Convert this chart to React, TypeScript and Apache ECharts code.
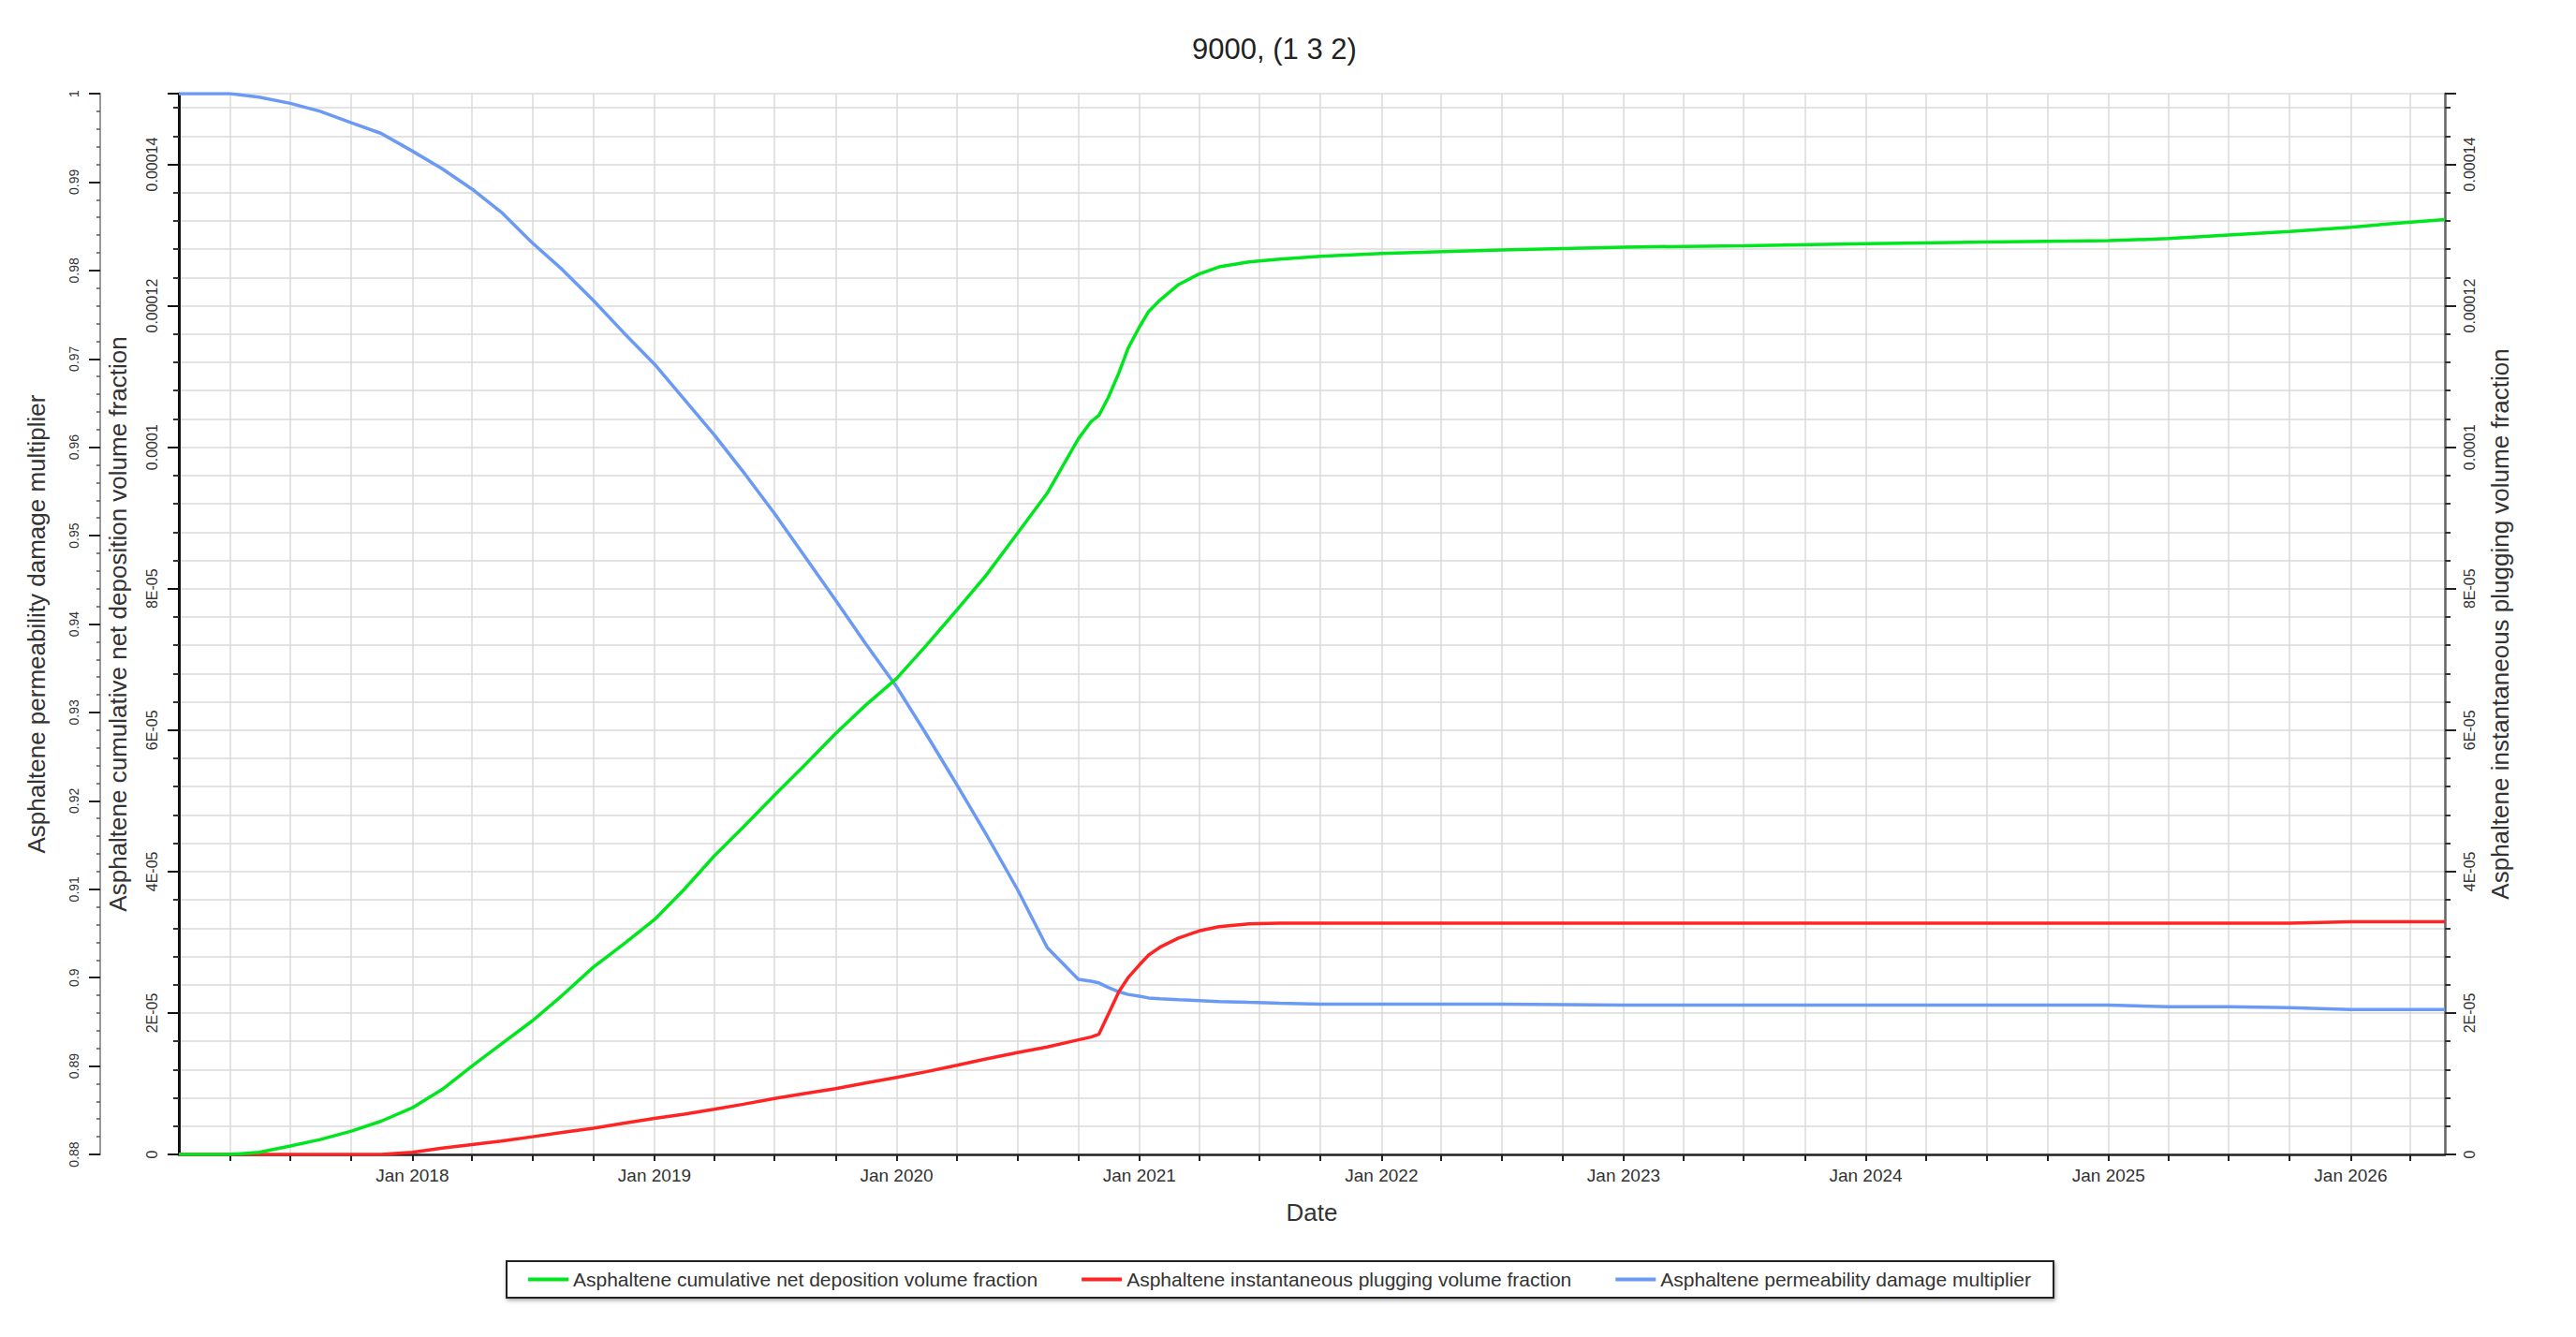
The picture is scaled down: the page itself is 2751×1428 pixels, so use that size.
import React, { useEffect, useRef } from "react";
import * as echarts from "echarts";

const TITLE = "9000, (1 3 2)";
const X_NAME = "Date";
const CUM_NAME = "Asphaltene cumulative net deposition volume fraction";
const PLUG_NAME = "Asphaltene instantaneous plugging volume fraction";
const PERM_NAME = "Asphaltene permeability damage multiplier";

const X_MIN = "2017-01-14";
const X_MAX = "2026-05-23";

const DATES = [
  "2017-01-14", "2017-04-01", "2017-05-15", "2017-07-01", "2017-08-15", "2017-10-01", "2017-11-15",
  "2018-01-01", "2018-02-15", "2018-04-01", "2018-05-15", "2018-07-01", "2018-08-15", "2018-10-01", "2018-11-15",
  "2019-01-01", "2019-02-15", "2019-04-01", "2019-05-15", "2019-07-01", "2019-08-15", "2019-10-01", "2019-11-15",
  "2020-01-01", "2020-02-15", "2020-04-01", "2020-05-15", "2020-07-01", "2020-08-15", "2020-10-01", "2020-10-20",
  "2020-11-01", "2020-11-15", "2020-12-01", "2020-12-15",
  "2021-01-01", "2021-01-15", "2021-02-01", "2021-03-01", "2021-04-01", "2021-05-01", "2021-06-15", "2021-08-01", "2021-10-01",
  "2022-01-01", "2022-07-01", "2023-01-01", "2023-07-01", "2024-01-01", "2024-07-01",
  "2025-01-01", "2025-04-01", "2025-07-01", "2025-10-01", "2026-01-01", "2026-03-01", "2026-05-23",
];

// Asphaltene cumulative net deposition volume fraction
const CUM_DEPOSITION = [
  0, 0, 0.03e-5, 0.12e-5, 0.21e-5, 0.33e-5, 0.47e-5,
  0.66e-5, 0.92e-5, 1.25e-5, 1.56e-5, 1.89e-5, 2.25e-5, 2.65e-5, 2.97e-5,
  3.32e-5, 3.75e-5, 4.22e-5, 4.63e-5, 5.08e-5, 5.5e-5, 5.95e-5, 6.35e-5,
  6.73e-5, 7.2e-5, 7.7e-5, 8.19e-5, 8.78e-5, 9.35e-5, 10.12e-5, 10.36e-5,
  10.45e-5, 10.7e-5, 11.05e-5, 11.4e-5,
  11.7e-5, 11.92e-5, 12.08e-5, 12.3e-5, 12.45e-5, 12.55e-5, 12.62e-5, 12.66e-5, 12.7e-5,
  12.74e-5, 12.79e-5, 12.83e-5, 12.85e-5, 12.88e-5, 12.9e-5,
  12.92e-5, 12.95e-5, 13.0e-5, 13.05e-5, 13.11e-5, 13.16e-5, 13.22e-5,
];

// Asphaltene instantaneous plugging volume fraction
const INST_PLUGGING = [
  0, 0, 0, 0, 0, 0, 0,
  0.03e-5, 0.09e-5, 0.14e-5, 0.19e-5, 0.25e-5, 0.31e-5, 0.37e-5, 0.44e-5,
  0.51e-5, 0.57e-5, 0.64e-5, 0.71e-5, 0.79e-5, 0.86e-5, 0.93e-5, 1.01e-5,
  1.09e-5, 1.17e-5, 1.26e-5, 1.35e-5, 1.44e-5, 1.52e-5, 1.62e-5, 1.66e-5,
  1.7e-5, 1.98e-5, 2.3e-5, 2.5e-5,
  2.68e-5, 2.82e-5, 2.93e-5, 3.06e-5, 3.16e-5, 3.22e-5, 3.26e-5, 3.27e-5, 3.27e-5,
  3.27e-5, 3.27e-5, 3.27e-5, 3.27e-5, 3.27e-5, 3.27e-5,
  3.27e-5, 3.27e-5, 3.27e-5, 3.27e-5, 3.29e-5, 3.29e-5, 3.29e-5,
];

// Asphaltene permeability damage multiplier
const PERM_MULT = [
  1, 1, 0.9996, 0.9989, 0.998, 0.9967, 0.9955,
  0.9935, 0.9915, 0.9892, 0.9866, 0.9831, 0.9801, 0.9766, 0.973,
  0.9694, 0.9654, 0.9614, 0.9572, 0.9525, 0.9477, 0.9427, 0.9378,
  0.9329, 0.9275, 0.9218, 0.9162, 0.91, 0.9034, 0.8998, 0.8996,
  0.8994, 0.8989, 0.8984, 0.8981,
  0.8979, 0.8977, 0.8976, 0.8975, 0.8974, 0.8973, 0.8972, 0.8971, 0.897,
  0.897, 0.897, 0.8969, 0.8969, 0.8969, 0.8969,
  0.8969, 0.8967, 0.8967, 0.8966, 0.8964, 0.8964, 0.8964,
];

const PERM_MIN = 0.88;
const PERM_MAX = 1;
const PERM_STEP = 0.01;
const FRAC_MIN = 0;
const FRAC_MAX = 0.00015;
const FRAC_STEP = 0.00002;

const GREEN = "#00e61e";
const RED = "#ff2424";
const BLUE = "#6b9af5";
const GRID = "#dadada";
const FONT = "'Liberation Sans', Arial, sans-serif";
const DAY = 86400000;

function fmtSmall(v: number): string {
  if (Math.abs(v) < 1e-12) return "0";
  if (v >= 9.99e-5) return String(parseFloat(v.toPrecision(6)));
  const m = Math.round(v / 1e-5);
  return m + "E-05";
}

export default function App() {
  const ref = useRef<HTMLDivElement>(null);
  useEffect(() => {
    if (!ref.current) return;
    const chart = echarts.init(ref.current, null, { renderer: "svg" });
    const pairs = (vals: number[]) => DATES.map((d, i) => [d, vals[i]]);
    chart.setOption({
      animation: false,
      backgroundColor: "#ffffff",
      textStyle: { fontFamily: FONT },
      title: {
        text: TITLE,
        left: 1356,
        top: 32,
        textAlign: "center",
        textStyle: { fontSize: 31, fontWeight: "normal", color: "#222", fontFamily: FONT },
      },
      legend: {
        left: 541,
        top: 1347,
        orient: "horizontal",
        padding: [9, 24, 9, 23],
        itemGap: 47,
        itemWidth: 43,
        itemHeight: 4,
        icon: "rect",
        borderColor: "#222",
        borderWidth: 2,
        backgroundColor: "#fff",
        shadowBlur: 4,
        shadowColor: "rgba(0,0,0,0.35)",
        shadowOffsetX: 1,
        shadowOffsetY: 2,
        textStyle: { fontSize: 21, color: "#333", fontFamily: FONT },
        data: [CUM_NAME, PLUG_NAME, PERM_NAME],
      },
      grid: { left: 191, right: 140, top: 100, bottom: 195, containLabel: false, outerBoundsMode: "none" },
      xAxis: {
        type: "time",
        min: X_MIN,
        max: X_MAX,
        minInterval: 91 * DAY,
        maxInterval: 91 * DAY,
        name: X_NAME,
        nameLocation: "middle",
        nameGap: 49,
        nameTextStyle: { fontSize: 26, color: "#333", fontFamily: FONT },
        axisLine: { show: true, onZero: false, lineStyle: { color: "#222", width: 2.5 } },
        axisTick: { show: true, length: 7, lineStyle: { color: "#222", width: 2 } },
        axisLabel: {
          fontSize: 19,
          color: "#333",
          margin: 13,
          fontFamily: FONT,
          formatter: (v: number) => {
            const d = new Date(v);
            return d.getMonth() === 0 && d.getDate() === 1 ? "Jan " + d.getFullYear() : "";
          },
        },
        splitLine: { show: true, lineStyle: { color: GRID, width: 1.5 } },
      },
      yAxis: [
        {
          type: "value",
          position: "left",
          offset: 84,
          min: PERM_MIN,
          max: PERM_MAX,
          interval: PERM_STEP,
          name: PERM_NAME,
          nameLocation: "middle",
          nameRotate: 90,
          nameGap: 55,
          nameTextStyle: { fontSize: 26, color: "#333", fontFamily: FONT },
          axisLine: { show: true, lineStyle: { color: "#9a9a9a", width: 2 } },
          axisTick: { show: true, length: 12, lineStyle: { color: "#222", width: 2 } },
          minorTick: { show: true, splitNumber: 5, length: 4, lineStyle: { color: "#555", width: 1.5 } },
          axisLabel: {
            rotate: 90,
            fontSize: 14,
            color: "#333",
            margin: 21,
            fontFamily: FONT,
            formatter: (v: number) => String(parseFloat(v.toFixed(2))),
          },
          splitLine: { show: false },
        },
        {
          type: "value",
          position: "left",
          offset: 0,
          min: FRAC_MIN,
          max: FRAC_MAX,
          interval: FRAC_STEP,
          name: CUM_NAME,
          nameLocation: "middle",
          nameRotate: 90,
          nameGap: 52,
          nameTextStyle: { fontSize: 26, color: "#333", fontFamily: FONT },
          axisLine: { show: true, lineStyle: { color: "#111", width: 3 } },
          axisTick: { show: true, length: 12, lineStyle: { color: "#111", width: 2 } },
          minorTick: { show: true, splitNumber: 5, length: 6, lineStyle: { color: "#333", width: 2 } },
          axisLabel: {
            rotate: 90,
            fontSize: 16,
            color: "#333",
            margin: 21,
            showMaxLabel: false,
            fontFamily: FONT,
            formatter: fmtSmall,
          },
          splitLine: { show: true, lineStyle: { color: GRID, width: 1.5 } },
          minorSplitLine: { show: true, lineStyle: { color: GRID, width: 1.5 } },
        },
        {
          type: "value",
          position: "right",
          offset: 0,
          min: FRAC_MIN,
          max: FRAC_MAX,
          interval: FRAC_STEP,
          name: PLUG_NAME,
          nameLocation: "middle",
          nameRotate: 90,
          nameGap: 46,
          nameTextStyle: { fontSize: 26, color: "#333", fontFamily: FONT },
          axisLine: { show: true, lineStyle: { color: "#666", width: 2.5 } },
          axisTick: { show: true, length: 12, lineStyle: { color: "#222", width: 2 } },
          minorTick: { show: true, splitNumber: 5, length: 6, lineStyle: { color: "#333", width: 2 } },
          axisLabel: {
            rotate: 90,
            fontSize: 16,
            color: "#333",
            margin: 18,
            showMaxLabel: false,
            fontFamily: FONT,
            formatter: fmtSmall,
          },
          splitLine: { show: false },
        },
      ],
      series: [
        {
          name: CUM_NAME,
          type: "line",
          yAxisIndex: 1,
          data: pairs(CUM_DEPOSITION),
          symbol: "none",
          lineStyle: { color: GREEN, width: 3.5 },
          itemStyle: { color: GREEN },
          z: 4,
        },
        {
          name: PLUG_NAME,
          type: "line",
          yAxisIndex: 2,
          data: pairs(INST_PLUGGING),
          symbol: "none",
          lineStyle: { color: RED, width: 3.5 },
          itemStyle: { color: RED },
          z: 3,
        },
        {
          name: PERM_NAME,
          type: "line",
          yAxisIndex: 0,
          data: pairs(PERM_MULT),
          symbol: "none",
          lineStyle: { color: BLUE, width: 3.5 },
          itemStyle: { color: BLUE },
          z: 2,
        },
      ],
    });
    return () => chart.dispose();
  }, []);
  return (
    <div
      ref={ref}
      style={{ position: "absolute", left: 0, top: 0, width: 2751, height: 1428 }}
    />
  );
}
